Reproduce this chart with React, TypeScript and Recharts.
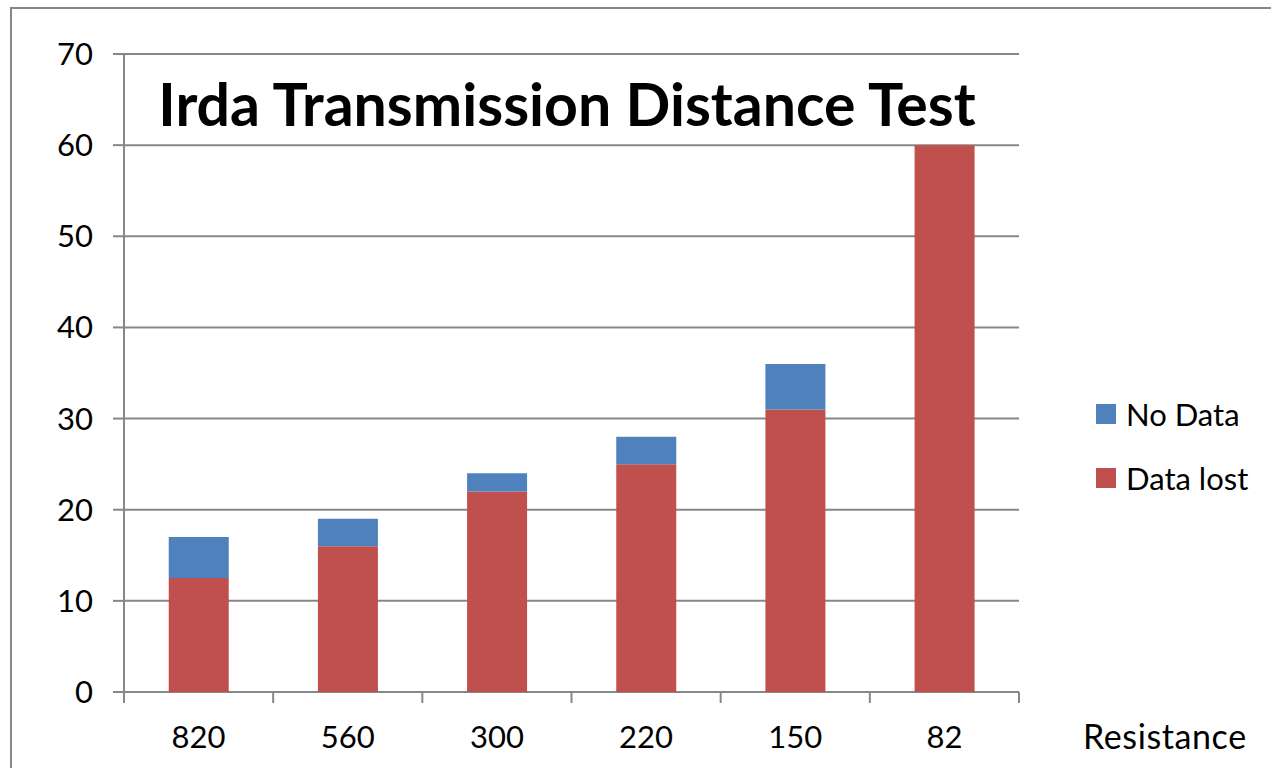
import { BarChart, Bar, XAxis, YAxis, CartesianGrid, Legend } from "recharts"

const categories = ["820", "560", "300", "220", "150", "82"]
const dataLost = [12.5, 16, 22, 25, 31, 60]
const noData = [4.5, 3, 2, 3, 5, 0]
const yTicks = [0, 10, 20, 30, 40, 50, 60, 70]

const FONT = "Lato, 'Open Sans', sans-serif"
const GREY = "#878787"
const TICK_GAP = 34

const data = categories.map((name, i) => ({
  name,
  lost: dataLost[i],
  none: noData[i],
}))

// category label plus the small tick marks sitting on the band edges
const CategoryTick = (props: any) => {
  const { x, y, payload, index } = props
  const half = payload?.offset ?? 0
  const top = y - TICK_GAP
  return (
    <g>
      <line
        x1={x - half}
        x2={x - half}
        y1={top}
        y2={top + 11}
        stroke={GREY}
        strokeWidth={2}
      />
      {index === categories.length - 1 && (
        <line
          x1={x + half}
          x2={x + half}
          y1={top}
          y2={top + 11}
          stroke={GREY}
          strokeWidth={2}
        />
      )}
      <text
        x={x}
        y={y}
        dy="0.71em"
        textAnchor="middle"
        fill="#000"
        fontSize={31}
        fontFamily={FONT}
      >
        {payload.value}
      </text>
    </g>
  )
}

const renderLegend = (props: any) => {
  const items = [...(props.payload ?? [])].reverse()
  return (
    <div style={{ fontFamily: FONT, fontSize: 31, color: "#000" }}>
      {items.map((it: any) => (
        <div
          key={it.value}
          style={{ display: "flex", alignItems: "center", height: 64 }}
        >
          <span
            style={{
              width: 20,
              height: 20,
              background: it.color,
              marginRight: 10,
              display: "inline-block",
            }}
          />
          <span>{it.value}</span>
        </div>
      ))}
    </div>
  )
}

export default function App() {
  return (
    <div
      style={{
        position: "fixed",
        left: 0,
        top: 0,
        width: 1271,
        height: 768,
        overflow: "hidden",
        background: "#fff",
      }}
    >
      <div
        style={{
          position: "absolute",
          left: 10,
          top: 7,
          width: 1400,
          height: 900,
          border: `2px solid ${GREY}`,
        }}
      />
      <div style={{ position: "absolute", left: 0, top: 0 }}>
        <BarChart
          width={1271}
          height={768}
          data={data}
          margin={{ top: 54, right: 77, bottom: 26, left: 0 }}
          barCategoryGap="30%"
        >
          <CartesianGrid vertical={false} stroke={GREY} strokeWidth={2} />
          <XAxis
            dataKey="name"
            height={50}
            axisLine={false}
            tickLine={false}
            tickSize={0}
            tickMargin={TICK_GAP}
            tick={<CategoryTick />}
            label={{
              value: "Resistance",
              position: "right",
              offset: 64,
              dy: 20,
              fill: "#000",
              fontSize: 34,
              letterSpacing: 0.6,
              fontFamily: FONT,
            }}
          />
          <YAxis
            domain={[0, 70]}
            ticks={yTicks}
            width={124}
            tickSize={11}
            tickMargin={20}
            stroke={GREY}
            strokeWidth={2}
            tick={{ fill: "#000", fontSize: 31, fontFamily: FONT }}
          />
          <Legend
            layout="vertical"
            align="right"
            verticalAlign="middle"
            content={renderLegend}
            wrapperStyle={{ left: 1096, top: 382, width: 175 }}
          />
          <Bar
            dataKey="lost"
            name="Data lost"
            stackId="a"
            fill="#C0504D"
            isAnimationActive={false}
          />
          <Bar
            dataKey="none"
            name="No Data"
            stackId="a"
            fill="#4F81BD"
            isAnimationActive={false}
          />
        </BarChart>
      </div>
      <div
        style={{
          position: "absolute",
          left: 0,
          top: 74,
          width: 1134,
          textAlign: "center",
          fontFamily: FONT,
          fontWeight: 700,
          fontSize: 59,
          lineHeight: 1,
          color: "#000",
        }}
      >
        Irda Transmission Distance Test
      </div>
    </div>
  )
}
